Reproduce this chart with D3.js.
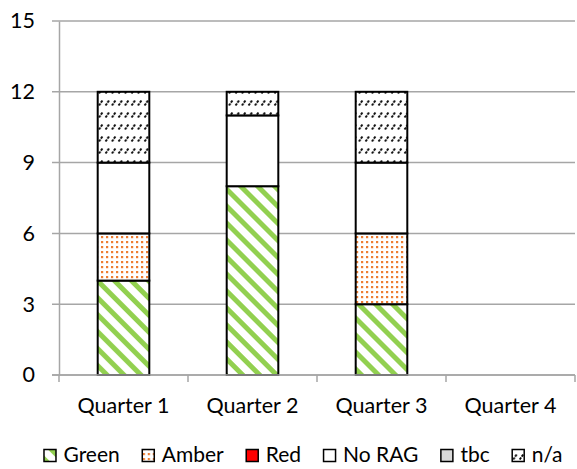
<!DOCTYPE html>
<html>
<head>
<meta charset="utf-8">
<script src="https://cdn.jsdelivr.net/npm/d3@7"></script>
<style>
  body { margin: 0; background: #fff; }
  text { font-family: Lato, "Liberation Sans", sans-serif; fill: #000; }
</style>
</head>
<body>
<div id="chart"></div>
<script>
// chart data
const quarters = ['Quarter 1', 'Quarter 2', 'Quarter 3', 'Quarter 4'];
const seriesNames = ['Green', 'Amber', 'Red', 'No RAG', 'tbc', 'n/a'];
const green = [4, 8, 3, 0];
const amber = [2, 0, 3, 0];
const red = [0, 0, 0, 0];
const noRag = [3, 3, 3, 0];
const tbc = [0, 0, 0, 0];
const na = [3, 1, 3, 0];
const yTicks = [0, 3, 6, 9, 12, 15];

const width = 577, height = 469;
const margin = {top: 21, right: 2, bottom: 94, left: 59};

const rows = quarters.map((q, i) => ({
    quarter: q,
    'Green': green[i], 'Amber': amber[i], 'Red': red[i],
    'No RAG': noRag[i], 'tbc': tbc[i], 'n/a': na[i]
}));

const svg = d3.select('#chart').append('svg')
    .attr('width', width)
    .attr('height', height);

// fill patterns
const defs = svg.append('defs');

const pGreen = defs.append('pattern')
    .attr('id', 'p-green')
    .attr('patternUnits', 'userSpaceOnUse')
    .attr('width', 12).attr('height', 12)
    .attr('patternTransform', 'rotate(-45)');
pGreen.append('rect').attr('width', 12).attr('height', 12).attr('fill', '#fff');
pGreen.append('rect').attr('width', 5).attr('height', 12).attr('fill', '#92D050');

const pAmber = defs.append('pattern')
    .attr('id', 'p-amber')
    .attr('patternUnits', 'userSpaceOnUse')
    .attr('width', 5).attr('height', 5);
pAmber.append('rect').attr('width', 5).attr('height', 5).attr('fill', '#fff');
pAmber.append('rect').attr('x', 1).attr('y', 1).attr('width', 2.2).attr('height', 2.2).attr('fill', '#ED7D31');

const pNa = defs.append('pattern')
    .attr('id', 'p-na')
    .attr('patternUnits', 'userSpaceOnUse')
    .attr('width', 6.5).attr('height', 12);
pNa.append('rect').attr('width', 6.5).attr('height', 12).attr('fill', '#fff');
pNa.append('line')
    .attr('x1', 1.5).attr('y1', 9.5).attr('x2', 5).attr('y2', 4.5)
    .attr('stroke', '#000').attr('stroke-width', 1.8)
    .attr('stroke-dasharray', '2.5 1');

const fills = {
    'Green': 'url(#p-green)',
    'Amber': 'url(#p-amber)',
    'Red': '#FF0000',
    'No RAG': '#fff',
    'tbc': '#D9D9D9',
    'n/a': 'url(#p-na)'
};

const x = d3.scaleBand()
    .domain(quarters)
    .range([margin.left, width - margin.right])
    .paddingInner(0.6)
    .paddingOuter(0.3);

const y = d3.scaleLinear()
    .domain([0, 15])
    .range([height - margin.bottom, margin.top]);

// gridlines
svg.append('g')
    .selectAll('line')
    .data(yTicks)
    .enter()
    .append('line')
    .attr('x1', margin.left - 7)
    .attr('x2', width - margin.right)
    .attr('y1', d => y(d))
    .attr('y2', d => y(d))
    .attr('stroke', '#A6A6A6')
    .attr('stroke-width', 1.5);

// y axis
const yAxis = svg.append('g')
    .attr('transform', `translate(${margin.left},0)`)
    .call(d3.axisLeft(y).tickValues(yTicks).tickSize(0).tickPadding(24));
yAxis.select('.domain').attr('stroke', '#A6A6A6').attr('stroke-width', 1.5);
yAxis.selectAll('text').style('font-size', '21.5px').attr('font-family', null);

// stacked bars
const stack = d3.stack().keys(seriesNames);
const stacked = stack(rows);

svg.append('g')
    .selectAll('g')
    .data(stacked)
    .enter()
    .append('g')
    .attr('fill', d => fills[d.key])
    .selectAll('rect')
    .data(d => d.filter(s => s[1] - s[0] > 0))
    .enter()
    .append('rect')
    .attr('x', d => x(d.data.quarter))
    .attr('width', x.bandwidth())
    .attr('y', d => y(d[1]))
    .attr('height', d => y(d[0]) - y(d[1]))
    .attr('stroke', '#000')
    .attr('stroke-width', 2);

// x axis with ticks between categories
const xAxisG = svg.append('g');
xAxisG.append('line')
    .attr('x1', margin.left - 7)
    .attr('x2', width - margin.right)
    .attr('y1', y(0)).attr('y2', y(0))
    .attr('stroke', '#A6A6A6')
    .attr('stroke-width', 1.5);
const step = x.step();
const bounds = d3.range(quarters.length + 1).map(i => margin.left + i * step);
xAxisG.selectAll('.tick')
    .data(bounds)
    .enter()
    .append('line')
    .attr('x1', d => d).attr('x2', d => d)
    .attr('y1', y(0)).attr('y2', y(0) + 7)
    .attr('stroke', '#A6A6A6')
    .attr('stroke-width', 1.5);
xAxisG.selectAll('text')
    .data(quarters)
    .enter()
    .append('text')
    .attr('x', d => x(d) + x.bandwidth() / 2)
    .attr('y', 413)
    .attr('text-anchor', 'middle')
    .style('font-size', '21.5px')
    .text(d => d);

// legend
const legendY = 462;
const legend = svg.append('g');
let cursor = 0;
seriesNames.forEach(name => {
    const g = legend.append('g');
    g.append('rect')
        .attr('x', 0.5).attr('y', -12.5)
        .attr('width', 12).attr('height', 12)
        .attr('fill', fills[name])
        .attr('stroke', '#000')
        .attr('stroke-width', 1.5);
    const t = g.append('text')
        .attr('x', 20)
        .style('font-size', '21px')
        .text(name);
    const w = 20 + t.node().getComputedTextLength();
    g.attr('transform', `translate(${cursor},0)`);
    cursor += w + 22;
});
const total = cursor - 22;
legend.attr('transform', `translate(${303 - total / 2},${legendY})`);
</script>
</body>
</html>
